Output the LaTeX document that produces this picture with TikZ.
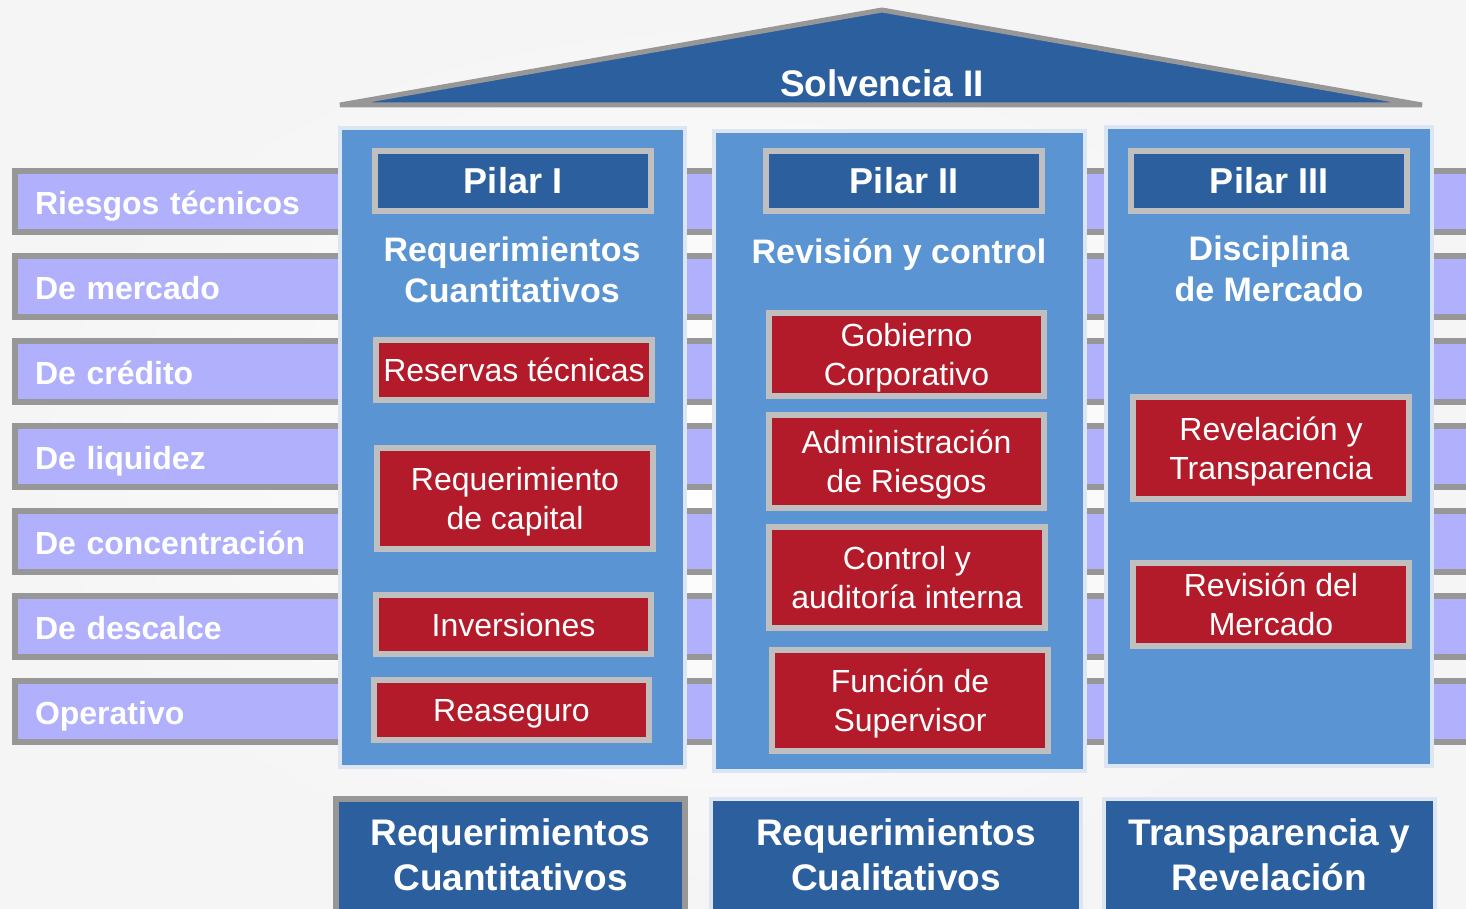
\documentclass[tikz,border=0pt]{standalone}
\usepackage{fontspec}
\setmainfont{Liberation Sans}
\usetikzlibrary{fit}
\definecolor{barfill}{HTML}{B0B0FC}
\definecolor{barline}{HTML}{979797}
\definecolor{pilarfill}{HTML}{5B94D3}
\definecolor{pilarline}{HTML}{DCE6F2}
\definecolor{azul}{HTML}{2C5F9D}
\definecolor{grisclaro}{HTML}{BFBFBF}
\definecolor{rojo}{HTML}{B31B2A}
\begin{document}
\begin{tikzpicture}[x=0.5pt, y=-0.5pt,
	barra/.style={draw=barline, fill=barfill, line width=3pt, anchor=north west, outer sep=0pt, minimum height=30.5pt, inner xsep=10pt, text width=712.5pt, text height=14pt, text depth=1pt, align=left, text=white, font=\bfseries\fontsize{16}{19}\selectfont},
	pilar/.style={draw=pilarline, fill=pilarfill, line width=2pt, inner sep=0pt},
	cabecera/.style={draw=grisclaro, fill=azul, line width=3pt, minimum width=138pt, minimum height=30pt, text=white, font=\bfseries\fontsize{18}{21}\selectfont},
	caja/.style={draw=grisclaro, fill=rojo, line width=3pt, text depth=-1pt, text=white, align=center, font=\fontsize{16}{19.5}\selectfont},
	lema/.style={text=white, align=center, font=\bfseries\fontsize{17}{20.5}\selectfont},
	cimiento/.style={fill=azul, minimum height=57.5pt, text depth=2pt, text=white, align=center, font=\bfseries\fontsize{18.5}{22.5}\selectfont}]
	\useasboundingbox (0,0) rectangle (1466,909);
	\shade[inner color=white, outer color=black!4] (0,0) rectangle (1466,909);
	% riesgos
	\foreach \t [count=\i] in {Riesgos técnicos, De mercado, De crédito, De liquidez, De concentración, De descalce, Operativo}
		\node[barra] (b\i) at (15,{171+85*(\i-1)}) {\t};
	% pilares
	\node[pilar, fit={(340,128) (685,767)}] (p1) {};
	\node[pilar, fit={(714,131) (1085,771)}] (p2) {};
	\node[pilar, fit={(1106,127) (1432,766)}] (p3) {};
	% techo
	\draw[fill=azul, draw=barline, line width=2.5pt, line join=bevel] (340,105) -- (882,10) -- (1422,105) -- cycle;
	\node[text=white, font=\bfseries\fontsize{18.5}{22}\selectfont] (techo) at (882,83) {Solvencia II};
	\node[cabecera] (h1) at (513,181) {Pilar I};
	\node[cabecera] (h2) at (904,181) {Pilar II};
	\node[cabecera] (h3) at (1269,181) {Pilar III};
	\node[lema] (s1) at (512,270) {Requerimientos\\Cuantitativos};
	\node[lema] (s2) at (899,255) {Revisión y control};
	\node[lema] (s3) at (1269,269) {Disciplina\\de Mercado};
	% pilar I
	\node[caja, minimum width=138pt, minimum height=30pt] (r11) at (514,370) {Reservas técnicas};
	\node[caja, minimum width=138pt, minimum height=50.5pt] (r12) at (515,498.5) {Requerimiento\\de capital};
	\node[caja, minimum width=137.5pt, minimum height=29.5pt] (r13) at (513.5,624.5) {Inversiones};
	\node[caja, minimum width=137.5pt, minimum height=30pt] (r14) at (511.5,710) {Reaseguro};
	% pilar II
	\node[caja, minimum width=137.5pt, minimum height=41.5pt] (r21) at (906.5,354.5) {Gobierno\\Corporativo};
	\node[caja, minimum width=137.5pt, minimum height=46.5pt] (r22) at (906.5,461.5) {Administración\\de Riesgos};
	\node[caja, minimum width=138pt, minimum height=50.5pt] (r23) at (907,577.5) {Control y\\auditoría interna};
	\node[caja, minimum width=138pt, minimum height=50.5pt] (r24) at (910,700.5) {Función de\\Supervisor};
	% pilar III
	\node[caja, minimum width=138pt, minimum height=51pt] (r31) at (1271,448) {Revelación y\\Transparencia};
	\node[caja, minimum width=138pt, minimum height=41.5pt] (r32) at (1271,604.5) {Revisión del\\Mercado};
	% base
	\node[cimiento, draw=barline, line width=3pt, minimum width=174.5pt] (f1) at (510.5,856.5) {Requerimientos\\Cuantitativos};
	\node[cimiento, draw=pilarline, line width=2pt, minimum width=185pt] (f2) at (896,856.5) {Requerimientos\\Cualitativos};
	\node[cimiento, draw=pilarline, line width=2pt, minimum width=165.5pt] (f3) at (1269.5,856.5) {Transparencia y\\Revelación};
\end{tikzpicture}
\end{document}
